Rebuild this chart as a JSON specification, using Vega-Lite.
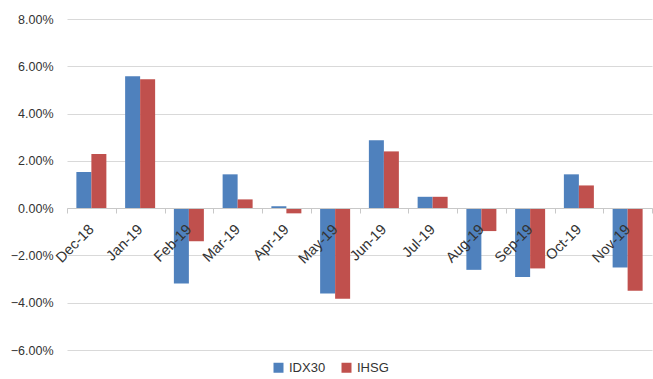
{
  "$schema": "https://vega.github.io/schema/vega-lite/v6.json",
  "width": 585,
  "height": 331,
  "autosize": {"type": "none"},
  "padding": {"left": 67, "top": 19, "right": 1, "bottom": 29},
  "background": "white",
  "config": {"view": {"stroke": null}, "font": "Liberation Sans"},
  "data": {"values": [
    {"month": "Dec-18", "series": "IDX30", "value": 0.0153},
    {"month": "Dec-18", "series": "IHSG", "value": 0.0229},
    {"month": "Jan-19", "series": "IDX30", "value": 0.0558},
    {"month": "Jan-19", "series": "IHSG", "value": 0.0545},
    {"month": "Feb-19", "series": "IDX30", "value": -0.0319},
    {"month": "Feb-19", "series": "IHSG", "value": -0.0140},
    {"month": "Mar-19", "series": "IDX30", "value": 0.0143},
    {"month": "Mar-19", "series": "IHSG", "value": 0.0037},
    {"month": "Apr-19", "series": "IDX30", "value": 0.0008},
    {"month": "Apr-19", "series": "IHSG", "value": -0.0022},
    {"month": "May-19", "series": "IDX30", "value": -0.0361},
    {"month": "May-19", "series": "IHSG", "value": -0.0383},
    {"month": "Jun-19", "series": "IDX30", "value": 0.0287},
    {"month": "Jun-19", "series": "IHSG", "value": 0.0240},
    {"month": "Jul-19", "series": "IDX30", "value": 0.0048},
    {"month": "Jul-19", "series": "IHSG", "value": 0.0048},
    {"month": "Aug-19", "series": "IDX30", "value": -0.0261},
    {"month": "Aug-19", "series": "IHSG", "value": -0.0097},
    {"month": "Sep-19", "series": "IDX30", "value": -0.0291},
    {"month": "Sep-19", "series": "IHSG", "value": -0.0255},
    {"month": "Oct-19", "series": "IDX30", "value": 0.0143},
    {"month": "Oct-19", "series": "IHSG", "value": 0.0096},
    {"month": "Nov-19", "series": "IDX30", "value": -0.0251},
    {"month": "Nov-19", "series": "IHSG", "value": -0.0349}
  ]},
  "mark": {"type": "bar"},
  "encoding": {
    "x": {
      "field": "month", "type": "nominal", "sort": null,
      "scale": {"paddingInner": 0, "paddingOuter": 0},
      "axis": {
        "title": null, "labelAngle": -45, "labelAlign": "right", "labelBaseline": "middle",
        "labelFontSize": 14.5, "labelColor": "#333333", "labelPadding": 14,
        "offset": -142, "tickBand": "extent", "tickSize": 5, "tickColor": "#C8C8C8",
        "domainColor": "#C8C8C8", "grid": false, "zindex": 1
      }
    },
    "xOffset": {
      "field": "series", "type": "nominal",
      "scale": {"paddingInner": 0, "paddingOuter": 0.625}
    },
    "y": {
      "field": "value", "type": "quantitative",
      "scale": {"domain": [-0.06, 0.08], "nice": false, "zero": false},
      "axis": {
        "title": null, "format": ".2%", "values": [-0.06, -0.04, -0.02, 0, 0.02, 0.04, 0.06, 0.08],
        "domain": false, "ticks": false, "labelFontSize": 12.5, "labelColor": "#333333",
        "labelPadding": 14, "gridColor": "#D9D9D9", "gridWidth": 1
      }
    },
    "color": {
      "field": "series", "type": "nominal",
      "scale": {"domain": ["IDX30", "IHSG"], "range": ["#4F81BD", "#C0504D"]},
      "legend": {
        "title": null, "orient": "none", "direction": "horizontal",
        "legendX": 205, "legendY": 342, "symbolType": "square", "symbolSize": 100,
        "symbolStrokeWidth": 0, "labelFontSize": 13, "labelColor": "#333333",
        "columnPadding": 14
      }
    }
  }
}
